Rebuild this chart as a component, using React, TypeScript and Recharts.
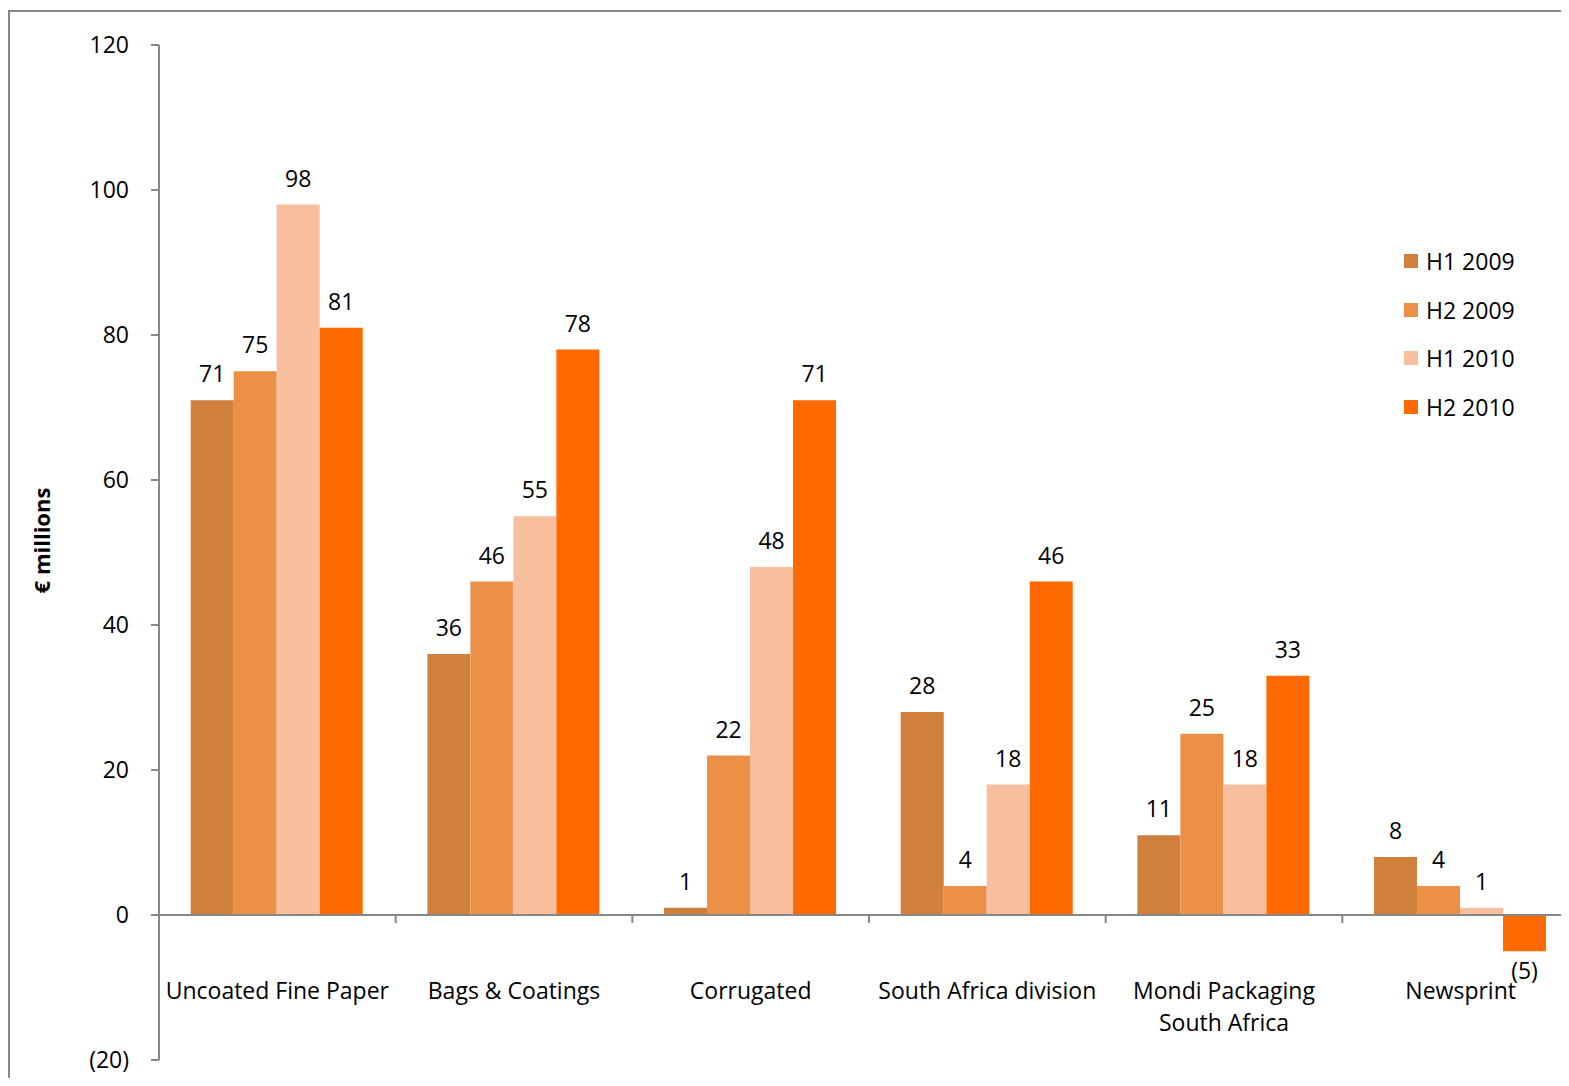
import React from 'react';
import { BarChart, Bar, XAxis, YAxis, ReferenceLine, Legend, LabelList } from 'recharts';

const categories = [
  'Uncoated Fine Paper',
  'Bags & Coatings',
  'Corrugated',
  'South Africa division',
  'Mondi Packaging\nSouth Africa',
  'Newsprint',
];
const h1_2009 = [71, 36, 1, 28, 11, 8];
const h2_2009 = [75, 46, 22, 4, 25, 4];
const h1_2010 = [98, 55, 48, 18, 18, 1];
const h2_2010 = [81, 78, 71, 46, 33, -5];
const yTicks = [-20, 0, 20, 40, 60, 80, 100, 120];

const seriesInfo = [
  { key: 'h1_2009', name: 'H1 2009', color: '#D17F3C' },
  { key: 'h2_2009', name: 'H2 2009', color: '#EC9048' },
  { key: 'h1_2010', name: 'H1 2010', color: '#F8BF9E' },
  { key: 'h2_2010', name: 'H2 2010', color: '#FF6A00' },
];

const data = categories.map((c, i) => ({
  category: c,
  h1_2009: h1_2009[i],
  h2_2009: h2_2009[i],
  h1_2010: h1_2010[i],
  h2_2010: h2_2010[i],
}));

const CHART_W = 1600;
const CHART_H = 1100;
const MARGIN = { top: 37, right: 29, left: 1, bottom: 8 };
const Y_AXIS_W = 150;
const X_AXIS_H = 40;
const Y_MIN = -20;
const Y_MAX = 120;
const AXIS_GREY = '#878787';
const FONT = 23;

const plotTop = MARGIN.top;
const plotBottom = CHART_H - MARGIN.bottom - X_AXIS_H;
const plotWidth = CHART_W - MARGIN.left - MARGIN.right - Y_AXIS_W;
const bandWidth = plotWidth / categories.length;
const zeroY = plotTop + ((Y_MAX - 0) / (Y_MAX - Y_MIN)) * (plotBottom - plotTop);

const fmt = (v: number) => (v < 0 ? `(${Math.abs(v)})` : `${v}`);

const ValueLabel = (props: any) => {
  const x = Number(props.x);
  const y = Number(props.y);
  const w = Number(props.width);
  const h = Number(props.height);
  const v = Number(props.value);
  const top = Math.min(y, y + h);
  const bottom = Math.max(y, y + h);
  const cx = x + w / 2;
  return (
    <text x={cx} y={v < 0 ? bottom + 28 : top - 18} textAnchor="middle" fill="#000" fontSize={FONT}>
      {fmt(v)}
    </text>
  );
};

const CategoryTick = (props: any) => {
  const { x, payload, index } = props;
  const lines = String(payload.value).split('\n');
  const bx = x + bandWidth / 2;
  return (
    <g>
      {index < categories.length - 1 && (
        <line x1={bx} x2={bx} y1={zeroY} y2={zeroY + 8} stroke={AXIS_GREY} strokeWidth={2} />
      )}
      <text x={x} y={zeroY + 84} textAnchor="middle" fill="#000" fontSize={FONT}>
        {lines.map((l, i) => (
          <tspan key={i} x={x} dy={i === 0 ? 0 : 32}>
            {l}
          </tspan>
        ))}
      </text>
    </g>
  );
};

const renderLegend = () => (
  <div style={{ fontSize: FONT, color: '#000' }}>
    {seriesInfo.map((s) => (
      <div key={s.key} style={{ display: 'flex', alignItems: 'center', height: 48.5 }}>
        <span style={{ width: 14, height: 14, background: s.color, display: 'inline-block', marginRight: 8 }} />
        <span>{s.name}</span>
      </div>
    ))}
  </div>
);

export default function App() {
  return (
    <div
      style={{
        position: 'relative',
        width: 1561,
        height: 1070,
        overflow: 'hidden',
        fontFamily: '"Open Sans", Lato, sans-serif',
        background: '#fff',
      }}
    >
      <div
        style={{
          position: 'absolute',
          left: 0,
          top: 2,
          width: 1700,
          height: 1200,
          borderTop: `2px solid ${AXIS_GREY}`,
          borderLeft: `2px solid ${AXIS_GREY}`,
        }}
      />
      <div style={{ position: 'absolute', left: 0, top: 0 }}>
        <BarChart
          width={CHART_W}
          height={CHART_H}
          data={data}
          margin={MARGIN}
          barCategoryGap="13.4%"
          barGap={0}
        >
          <XAxis
            dataKey="category"
            height={X_AXIS_H}
            axisLine={false}
            tickLine={false}
            interval={0}
            tick={<CategoryTick />}
          />
          <YAxis
            width={Y_AXIS_W}
            domain={[Y_MIN, Y_MAX]}
            ticks={yTicks}
            tickFormatter={fmt}
            axisLine={{ stroke: AXIS_GREY, strokeWidth: 2 }}
            tickLine={{ stroke: AXIS_GREY, strokeWidth: 2 }}
            tickSize={8}
            tickMargin={22}
            tick={{ fill: '#000', fontSize: FONT }}
            label={{
              content: (p: any) => {
                const vb = p.viewBox || { x: 0, y: plotTop, width: Y_AXIS_W, height: plotBottom - plotTop };
                const cx = vb.x + 32;
                const cy = vb.y + vb.height / 2 - 12;
                return (
                  <text
                    x={cx}
                    y={cy}
                    transform={`rotate(-90 ${cx} ${cy})`}
                    textAnchor="middle"
                    dominantBaseline="central"
                    fontSize={FONT - 1}
                    fontWeight="bold"
                    fill="#000"
                  >
                    € millions
                  </text>
                );
              },
            }}
          />
          <Legend
            layout="vertical"
            align="center"
            verticalAlign="middle"
            content={renderLegend}
            wrapperStyle={{ left: 1396, top: 229, width: 170 }}
          />
          {seriesInfo.map((s) => (
            <Bar key={s.key} dataKey={s.key} name={s.name} fill={s.color} isAnimationActive={false}>
              <LabelList dataKey={s.key} content={<ValueLabel />} />
            </Bar>
          ))}
          <ReferenceLine y={0} stroke={AXIS_GREY} strokeWidth={2} />
        </BarChart>
      </div>
    </div>
  );
}
